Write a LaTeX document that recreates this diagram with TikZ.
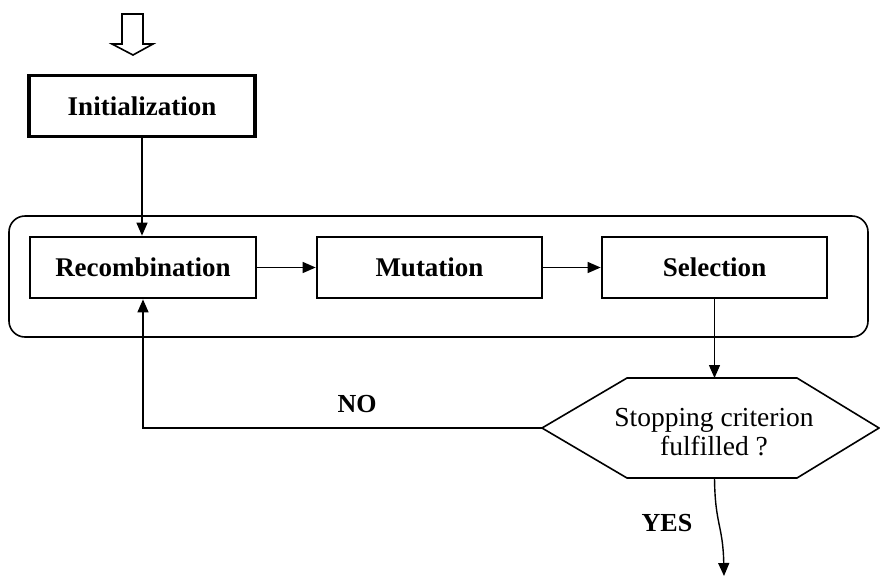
\documentclass[tikz,border=0pt]{standalone}
\usepackage{fontspec}
\setmainfont{Liberation Serif}
\usetikzlibrary{arrows.meta, positioning, calc}

\begin{document}
\begin{tikzpicture}[x=1pt, y=-1pt,
  stepbox/.style={draw, line width=2.7pt, minimum width=226pt, minimum height=61pt,
    inner sep=0pt, font=\fontsize{27}{30}\selectfont\bfseries},
  link/.style={line width=1.4pt, -{Triangle[length=13pt, width=11pt]}},
  lbl/.style={font=\fontsize{26}{30}\selectfont\bfseries}]
  \useasboundingbox (0,0) rectangle (880,576);

  % loop frame
  \draw[line width=1.6pt, rounded corners=16pt] (9,216) rectangle (868,337);

  % entry arrow
  \draw[line width=1.6pt] (122,14) -- (122,44) -- (112,44) -- (133,55) -- (153,44)
    -- (143,44) -- (143,14) -- cycle;

  \node[stepbox, line width=3.2pt] (init) at (142,106) {Initialization};
  \node[stepbox] (recomb) at (143,267.5) {Recombination};
  \node[stepbox, minimum width=225pt] (mut) at (429.5,267.5) {Mutation};
  \node[stepbox, minimum width=225pt] (sel) at (714.5,267.5) {Selection};

  % decision
  \coordinate (stopW) at (542,428);
  \coordinate (stopE) at (879,428);
  \coordinate (stopN) at (714.5,378);
  \coordinate (stopS) at (714.5,478);
  \draw[line width=1.6pt] (stopW) -- (627,378) -- (797,378) -- (stopE) -- (797,478)
    -- (627,478) -- cycle;
  \node[align=center, font=\fontsize{27.5}{29}\selectfont] (stop) at (714,432)
    {Stopping criterion\\fulfilled ?};
  \coordinate (finish) at (724,576);

  \draw[link] (init.south) -- (init.south |- recomb.north);
  \draw[link] (recomb) -- (mut);
  \draw[link] (mut) -- (sel);
  \draw[link] (sel.south) -- (stopN);
  \draw[link] (stopW) -| (recomb.south);
  \draw[link] (stopS) .. controls (715,525) and (723,525) .. (finish);

  \node[lbl] (no) at (357,404) {NO};
  \node[lbl] (yes) at (667,523) {YES};
\end{tikzpicture}
\end{document}
